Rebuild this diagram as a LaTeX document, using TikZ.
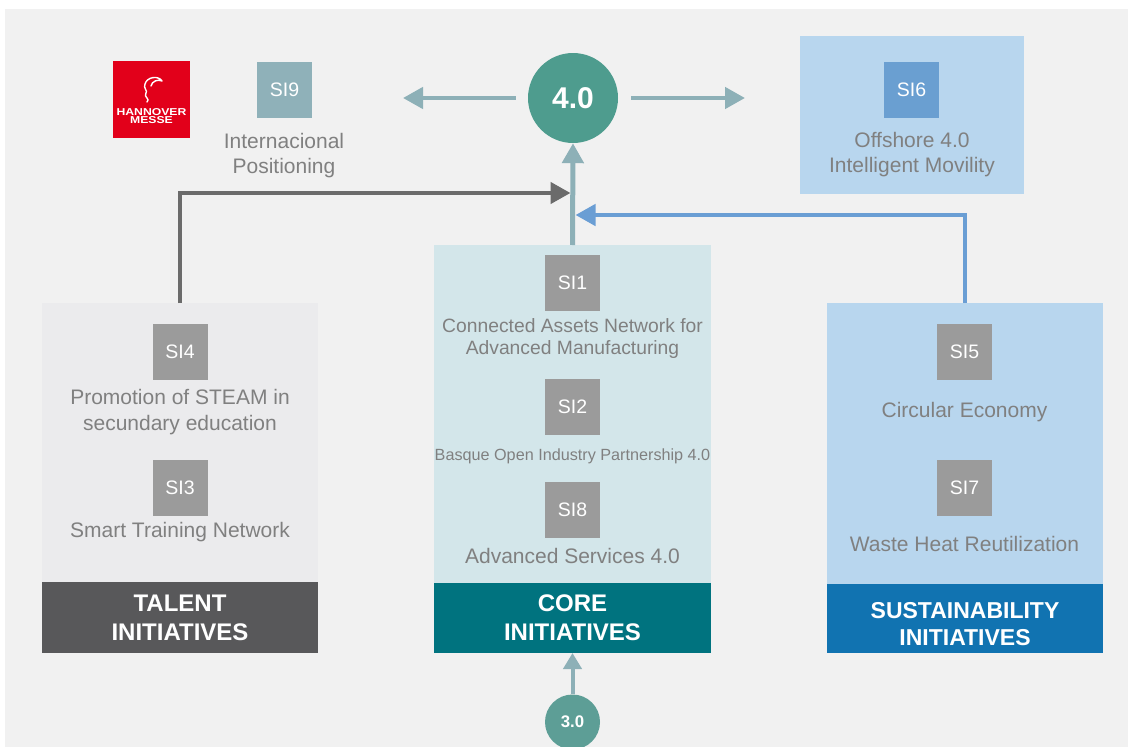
\documentclass[tikz,border=0pt]{standalone}
\usepackage{fontspec}
\usepackage{graphicx}
\setmainfont{Liberation Sans}
\usetikzlibrary{arrows.meta}
\definecolor{bgGray}{HTML}{F1F1F1}
\definecolor{talentPanel}{HTML}{EBEBED}
\definecolor{talentBand}{HTML}{58585A}
\definecolor{corePanel}{HTML}{D3E6EA}
\definecolor{coreBand}{HTML}{00737F}
\definecolor{susPanel}{HTML}{B8D6EE}
\definecolor{susBand}{HTML}{1173B1}
\definecolor{siGray}{HTML}{9B9B9B}
\definecolor{siNine}{HTML}{8FB1B9}
\definecolor{siSix}{HTML}{6A9FD1}
\definecolor{lblGray}{HTML}{808080}
\definecolor{tealFour}{HTML}{4E9C8E}
\definecolor{tealThree}{HTML}{5D9E96}
\definecolor{arrTeal}{HTML}{8DB0B7}
\definecolor{arrGray}{HTML}{6B6B6B}
\definecolor{arrBlue}{HTML}{6A9ED4}
\definecolor{hmRed}{HTML}{E2001A}
\tikzset{
  panelbox/.style={rectangle, draw=none, inner sep=0pt, outer sep=0pt},
  sibox/.style={rectangle, draw=none, fill=siGray, minimum width=55pt, minimum height=56pt, inner sep=0pt, text=white, font=\fontsize{19.5}{22}\selectfont},
  lbl/.style={text=lblGray, align=center, inner sep=0pt, font=\fontsize{21}{25}\selectfont},
  bandtxt/.style={text=white, align=center, inner sep=0pt, font=\bfseries\fontsize{24}{29}\selectfont},
  arr/.style={line width=4.5pt, -{Triangle[length=20pt,width=21pt]}},
  arrsmall/.style={line width=4pt, -{Triangle[length=16pt,width=18pt]}},
}
\begin{document}
\begin{tikzpicture}[x=1pt,y=-1pt]
\useasboundingbox (0,0) rectangle (1128,747);
\clip (0,0) rectangle (1128,747);
\fill[white] (0,0) rectangle (1128,747);
\fill[bgGray] (5,9) rectangle (1128,747);

% Hannover Messe logo
\node[panelbox, fill=hmRed, minimum width=77pt, minimum height=77pt] (hm) at (151.5,99.5) {};
\node[text=white, align=center, inner sep=0pt, font=\bfseries\fontsize{10}{8.5}\selectfont] (hmt) at (151.5,116) {\scalebox{1.22}[1]{HANNOVER}\\\scalebox{1.22}[1]{MESSE}};
\draw[white, line width=1.4pt, line cap=round, line join=round] (147,102) .. controls (151,99) and (143,97) .. (146,93) .. controls (148,91) and (143,88) .. (145,84) .. controls (147,77) and (158,75) .. (162,81) .. controls (158,79) and (152,81) .. (151,86);

% SI9
\node[sibox, fill=siNine] (si9) at (284.5,90) {SI9};
\node[lbl] (si9t) at (284,156) {Internacional\\Positioning};

% SI6 panel
\node[panelbox, fill=susPanel, minimum width=224pt, minimum height=158pt] (si6p) at (912,115) {};
\node[sibox, fill=siSix] (si6) at (911.5,90) {SI6};
\node[lbl] (si6t) at (912,154.5) {Offshore 4.0\\Intelligent Movility};

% 4.0 circle
\node[circle, fill=tealFour, minimum size=90pt, inner sep=0pt, text=white, font=\bfseries\fontsize{30}{36}\selectfont] (c40) at (573,98) {4.0};

% Talent panel
\node[panelbox, fill=talentPanel, minimum width=276pt, minimum height=279pt] (talentp) at (180,442.5) {};
\node[panelbox, fill=talentBand, minimum width=276pt, minimum height=71pt] (talentb) at (180,617.5) {};
\node[bandtxt] (talentbt) at (180,618) {TALENT\\INITIATIVES};
\node[sibox] (si4) at (180,351.5) {SI4};
\node[lbl, font=\fontsize{21}{26}\selectfont] (si4t) at (180,412) {Promotion of STEAM in\\secundary education};
\node[sibox] (si3) at (180,487.5) {SI3};
\node[lbl] (si3t) at (180,532.5) {Smart Training Network};

% Core panel
\node[panelbox, fill=corePanel, minimum width=277pt, minimum height=338pt] (corep) at (572.5,414) {};
\node[panelbox, fill=coreBand, minimum width=277pt, minimum height=70pt] (coreb) at (572.5,618) {};
\node[bandtxt] (corebt) at (572.5,618) {CORE\\INITIATIVES};
\node[sibox] (si1) at (572.5,283) {SI1};
\node[lbl, font=\fontsize{19.3}{22}\selectfont] (si1t) at (572.5,338.5) {Connected Assets Network for\\Advanced Manufacturing};
\node[sibox] (si2) at (572.5,407) {SI2};
\node[lbl, font=\fontsize{16.2}{19}\selectfont] (si2t) at (572.5,456) {Basque Open Industry Partnership 4.0};
\node[sibox] (si8) at (572.5,510) {SI8};
\node[lbl] (si8t) at (572.5,555.5) {Advanced Services 4.0};

% Sustainability panel
\node[panelbox, fill=susPanel, minimum width=276pt, minimum height=281pt] (susp) at (965,443.5) {};
\node[panelbox, fill=susBand, minimum width=276pt, minimum height=69pt] (susb) at (965,618.5) {};
\node[bandtxt, font=\bfseries\fontsize{23}{27}\selectfont] (susbt) at (965,624) {SUSTAINABILITY\\INITIATIVES};
\node[sibox] (si5) at (964.5,351.5) {SI5};
\node[lbl] (si5t) at (964.5,412.5) {Circular Economy};
\node[sibox] (si7) at (964.5,487.5) {SI7};
\node[lbl] (si7t) at (964.5,543.5) {Waste Heat Reutilization};

% 3.0 circle
\node[circle, fill=tealThree, minimum size=55pt, inner sep=0pt, text=white, font=\bfseries\fontsize{16.8}{20}\selectfont] (c30) at (572.5,722) {3.0};

% connectors
\coordinate (lt) at (403,98);
\coordinate (rt) at (745,98);
\coordinate (gj) at (570.5,193);
\coordinate (bj) at (575.5,215);
\draw[arr, arrTeal, shorten <=12pt] (c40) -- (lt);
\draw[arr, arrTeal, shorten <=13pt] (c40) -- (rt);
\draw[arr, arrGray] (talentp.north) |- (gj);
\draw[arr, arrBlue] (susp.north) |- (bj);
\draw[arr, arrTeal, line width=5pt] (corep.north) -- (c40.south);
\draw[arrsmall, arrTeal] (c30) -- (coreb.south);
\end{tikzpicture}
\end{document}
